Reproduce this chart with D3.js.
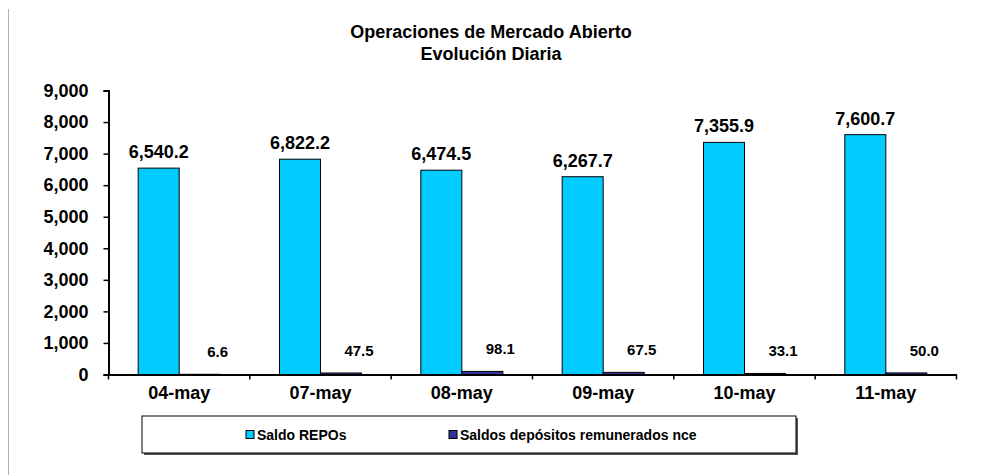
<!DOCTYPE html>
<html lang="en">

<body style="margin:0;background:#fff">
    <script type='text/javascript' src='https://d3js.org/d3.v7.min.js'></script>
    <script>

        // Data
        const categories = ["04-may", "07-may", "08-may", "09-may", "10-may", "11-may"];
        const repos = [6540.2, 6822.2, 6474.5, 6267.7, 7355.9, 7600.7];
        const depositos = [6.6, 47.5, 98.1, 67.5, 33.1, 50.0];
        const seriesNames = ["Saldo REPOs", "Saldos depósitos remunerados nce"];
        const yTicks = [0, 1000, 2000, 3000, 4000, 5000, 6000, 7000, 8000, 9000];

        const W = 985, H = 475;
        const plotLeft = 108.5, plotRight = 956.5, plotTop = 90.5, plotBottom = 374.5;
        const font = "'Liberation Sans', Arial, sans-serif";
        const colors = ["#00CCFF", "#333399"];

        const svg = d3.select("body").append("svg")
            .attr("width", W).attr("height", H)
            .style("font-family", font);

        // thin gray line at left edge
        svg.append("line")
            .attr("x1", 8.5).attr("x2", 8.5).attr("y1", 9).attr("y2", H)
            .attr("stroke", "#b0b0b0").attr("stroke-width", 1);

        // Title
        svg.append("text").attr("x", 491).attr("y", 38)
            .attr("text-anchor", "middle").attr("font-weight", "bold").attr("font-size", 18)
            .text("Operaciones de Mercado Abierto");
        svg.append("text").attr("x", 491).attr("y", 59.5)
            .attr("text-anchor", "middle").attr("font-weight", "bold").attr("font-size", 18)
            .text("Evolución Diaria");

        // Scales
        const x = d3.scaleBand().domain(categories).range([plotLeft, plotRight]).padding(0);
        const y = d3.scaleLinear().domain([0, 9000]).range([plotBottom, plotTop]);
        const barW = 41;

        // Y axis
        const yAxis = svg.append("g")
            .attr("transform", `translate(${plotLeft},0)`)
            .call(d3.axisLeft(y).tickValues(yTicks).tickSize(5).tickPadding(15)
                .tickFormat(d3.format(",")));
        yAxis.select(".domain").attr("stroke", "#000").attr("stroke-width", 2);
        yAxis.selectAll(".tick line").attr("stroke", "#000").attr("stroke-width", 1.5);
        yAxis.selectAll("text").attr("font-size", 18).attr("font-weight", "bold")
            .attr("font-family", font).attr("fill", "#000");

        // Bars
        const groups = svg.append("g").selectAll("g")
            .data(categories).enter().append("g");

        groups.append("rect")
            .attr("x", d => x(d) + x.bandwidth() / 2 - barW)
            .attr("y", (d, i) => y(repos[i]))
            .attr("width", barW)
            .attr("height", (d, i) => y(0) - y(repos[i]))
            .attr("fill", colors[0]).attr("stroke", "#000").attr("stroke-width", 1);

        groups.append("rect")
            .attr("x", d => x(d) + x.bandwidth() / 2)
            .attr("y", (d, i) => y(depositos[i]))
            .attr("width", barW)
            .attr("height", (d, i) => y(0) - y(depositos[i]))
            .attr("fill", colors[1]).attr("stroke", "#000").attr("stroke-width", 1);

        // value labels
        groups.append("text")
            .attr("x", d => x(d) + x.bandwidth() / 2 - barW / 2)
            .attr("y", (d, i) => y(repos[i]) - 10)
            .attr("text-anchor", "middle").attr("font-weight", "bold").attr("font-size", 18)
            .text((d, i) => d3.format(",.1f")(repos[i]));

        groups.append("text")
            .attr("x", d => x(d) + x.bandwidth() / 2 + barW / 2 + 18)
            .attr("y", (d, i) => y(depositos[i]) - 17)
            .attr("text-anchor", "middle").attr("font-weight", "bold").attr("font-size", 15)
            .text((d, i) => d3.format(",.1f")(depositos[i]));

        // X axis
        const xAxis = svg.append("g")
            .attr("transform", `translate(0,${plotBottom})`)
            .call(d3.axisBottom(x).tickSize(0).tickPadding(12));
        xAxis.select(".domain").attr("stroke", "#000").attr("stroke-width", 2);
        xAxis.selectAll("text").attr("font-size", 18).attr("font-weight", "bold")
            .attr("font-family", font).attr("fill", "#000");
        // boundary ticks between categories
        xAxis.selectAll(".bound")
            .data(categories.concat(["end"])).enter().append("line")
            .attr("x1", (d, i) => plotLeft + i * x.bandwidth())
            .attr("x2", (d, i) => plotLeft + i * x.bandwidth())
            .attr("y1", 0).attr("y2", 5)
            .attr("stroke", "#000").attr("stroke-width", 1.5);

        // Legend
        const lg = svg.append("g");
        lg.append("rect").attr("x", 144).attr("y", 418).attr("width", 654).attr("height", 37)
            .attr("fill", "#555");
        lg.append("rect").attr("x", 142).attr("y", 416).attr("width", 654).attr("height", 37)
            .attr("fill", "#fff").attr("stroke", "#000").attr("stroke-width", 1);
        const legendX = [246, 449];
        seriesNames.forEach((name, i) => {
            lg.append("rect").attr("x", legendX[i]).attr("y", 430.5).attr("width", 8).attr("height", 8)
                .attr("fill", colors[i]).attr("stroke", "#000").attr("stroke-width", 1);
            lg.append("text").attr("x", legendX[i] + 11).attr("y", 439.5)
                .attr("font-weight", "bold").attr("font-size", 14)
                .text(name);
        });

    </script>

</body>

</html>
